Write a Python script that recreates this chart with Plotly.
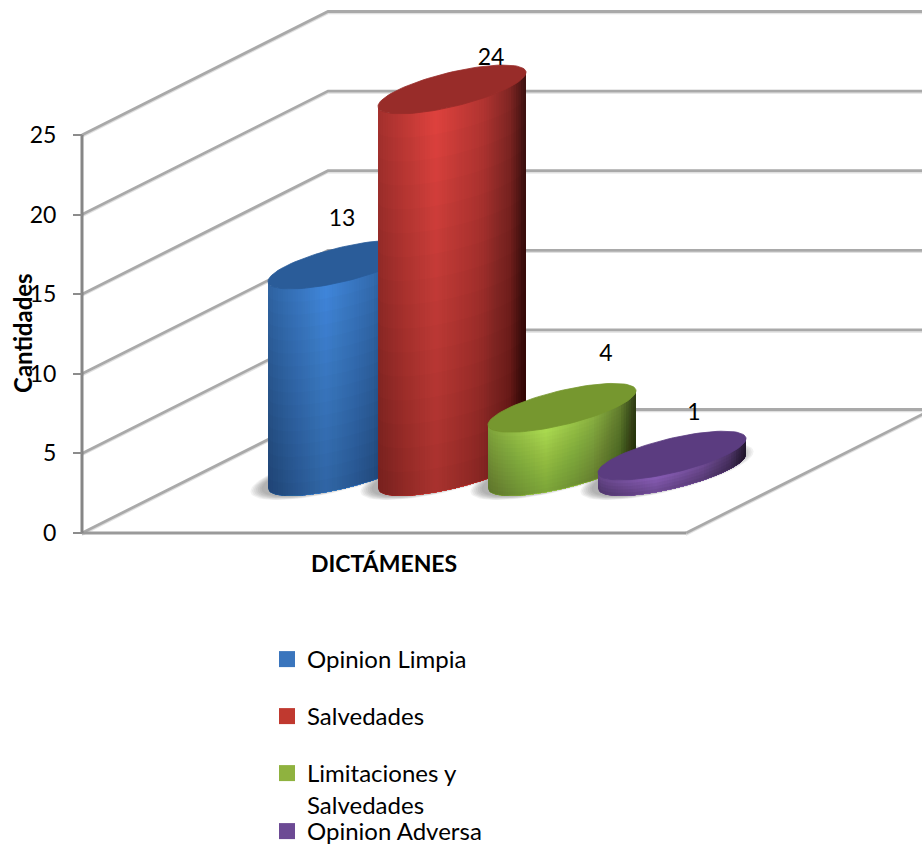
import numpy as np
import plotly.graph_objects as go

# ---------- data ----------
CATEGORIES = ["Opinion Limpia", "Salvedades", "Limitaciones y<br>Salvedades", "Opinion Adversa"]
VALUES = [13, 24, 4, 1]
Y_TICKS = [0, 5, 10, 15, 20, 25]
X_TITLE = "DICTÁMENES"
Y_TITLE = "Cantidades"

# ---------- style ----------
W, H = 922, 844
FONT = "Lato"
LIGHT = [(64, 134, 218), (222, 66, 62), (170, 218, 80), (135, 92, 180)]
CAP = ["#2a5c99", "#982c29", "#76972f", "#5b3c80"]
SWATCH = ["#3a75bd", "#c0392f", "#8fb23f", "#6c4a94"]
LABEL_SHIFT = [(0, 44), (39, 30), (44, 53), (22, 41)]   # px from cap centre
LEGEND_Y = [660, 717, 774, 832]

# pixel <-> axis scaling
PX_PER_CAT = 110.0
PX_PER_UNIT = 15.92
X0_PX, Y0_PX = 342.0, 533.0
X_RANGE = [-X0_PX / PX_PER_CAT, (W - X0_PX) / PX_PER_CAT]
Y_RANGE = [(Y0_PX - H) / PX_PER_UNIT, Y0_PX / PX_PER_UNIT]


def cx(px):
    return (px - X0_PX) / PX_PER_CAT


def dv(px):
    return px / PX_PER_UNIT


BASE_V = dv(61.5)      # depth of the column bases on the floor
HALF_W = 74 / PX_PER_CAT
TILT = dv(17)
FLAT = dv(17.5)
AXIS_X = cx(82)
BACK_X = cx(328)
FRONT_R = cx(686)
BACK_V = dv(123.5)
SLOPE_DX = BACK_X - AXIS_X

fig = go.Figure()


def poly(xs, ys, color, line=None, lw=0.8):
    fig.add_trace(go.Scatter(x=xs, y=ys, mode="lines", fill="toself", fillcolor=color,
                             line=dict(color=line or color, width=lw),
                             hoverinfo="skip", showlegend=False))


def ell(center_x, center_v, scale=1.0, n=90):
    t = np.linspace(0, 2 * np.pi, n)
    return (center_x + scale * HALF_W * np.cos(t),
            center_v + scale * (TILT * np.cos(t) - FLAT * np.sin(t)))


def wall(xs, ys, color="#a9a9a9", width=2.8, shadow=True):
    if shadow:
        fig.add_trace(go.Scatter(x=xs, y=np.array(ys) - dv(2), mode="lines",
                                 line=dict(color="#e0e0e0", width=1.5),
                                 hoverinfo="skip", showlegend=False))
    fig.add_trace(go.Scatter(x=xs, y=ys, mode="lines", line=dict(color=color, width=width),
                             hoverinfo="skip", showlegend=False))


# walls and floor
for v in Y_TICKS:
    wall([AXIS_X, BACK_X, X_RANGE[1]], [v, v + BACK_V, v + BACK_V])
wall([FRONT_R, FRONT_R + SLOPE_DX], [0, BACK_V])
wall([AXIS_X, FRONT_R], [0, 0], color="#9a9a9a", width=3, shadow=False)
wall([AXIS_X, AXIS_X], [Y_TICKS[0], Y_TICKS[-1]], color="#868686", width=3, shadow=False)

# soft shadows under the columns
for i in range(len(VALUES)):
    for s in np.linspace(1.17, 1.02, 7):
        xs, ys = ell(i - 5 / PX_PER_CAT, BASE_V, s)
        poly(xs, ys, "rgba(70,70,70,0.07)", line="rgba(0,0,0,0)", lw=0)

# columns: painter's-order shading polygons, then cumulative translucent overlays for the fade
PROFILE_U = [0.0, 0.12, 0.38, 0.7, 0.88, 1.0]
PROFILE_F = [0.74, 0.82, 1.0, 0.8, 0.58, 0.25]
N_STRIPS = 56
N_FADE = 16
for i, val in enumerate(VALUES):
    c = np.linspace(-1, 1, 121)
    s = np.sqrt(np.clip(1 - c ** 2, 0, 1))
    xe = i + HALF_W * c
    ye = BASE_V + TILT * c - FLAT * s
    for k in range(0, len(c) - 1, 2):
        u = 0.5 * (c[k] + 1)
        f = np.interp(u, PROFILE_U, PROFILE_F)
        col = "rgb(%d,%d,%d)" % tuple(int(min(255, ch * f)) for ch in LIGHT[i])
        # each polygon spans from this slice to the far edge; the next one paints over it
        poly(np.r_[xe[k:], xe[k:][::-1]], np.r_[ye[k:] + val, ye[k:][::-1]], col,
             line="rgba(0,0,0,0)", lw=0)
    fades = N_FADE if val >= 4 else 5
    for h in np.linspace(val, 0, fades + 1)[1:-1]:
        poly(np.r_[xe, xe[::-1]], np.r_[ye + h, ye[::-1]],
             "rgba(0,0,0,%.4f)" % (0.22 / fades), line="rgba(0,0,0,0)", lw=0)
    xs, ys = ell(i, BASE_V + val)
    poly(xs, ys, CAP[i])

# data labels
fig.add_trace(go.Scatter(
    x=[i + LABEL_SHIFT[i][0] / PX_PER_CAT for i in range(len(VALUES))],
    y=[BASE_V + v + dv(LABEL_SHIFT[i][1]) for i, v in enumerate(VALUES)],
    text=[str(v) for v in VALUES], mode="text", textposition="middle center",
    textfont=dict(family=FONT, size=23, color="#000000"),
    hoverinfo="skip", showlegend=False))

# legend: one legend box per entry so each row keeps its place
legends = {}
for i, name in enumerate(CATEGORIES):
    key = "legend" if i == 0 else f"legend{i + 1}"
    fig.add_trace(go.Scatter(x=[None], y=[None], mode="markers", name=name, legend=key,
                             marker=dict(symbol="square", size=16, color=SWATCH[i]),
                             showlegend=True))
    legends[key] = dict(x=267 / W, y=1 - (LEGEND_Y[i] - 23) / H, xanchor="left", yanchor="top",
                        bgcolor="rgba(0,0,0,0)", borderwidth=0, itemsizing="trace", valign="top",
                        font=dict(family=FONT, size=24, color="#000000"))

fig.update_layout(
    width=W, height=H, margin=dict(l=0, r=0, t=0, b=0, autoexpand=False), autosize=False,
    paper_bgcolor="white", plot_bgcolor="white",
    xaxis=dict(range=X_RANGE, visible=False, fixedrange=True, domain=[0, 1]),
    yaxis=dict(range=Y_RANGE, domain=[0, 1], anchor="free", position=82 / W, side="left",
               tickmode="array", tickvals=Y_TICKS, ticktext=[str(v) for v in Y_TICKS],
               showgrid=False, zeroline=False, showline=False,
               ticks="outside", ticklen=9, tickwidth=2, tickcolor="#8c8c8c", ticklabelstandoff=12,
               tickfont=dict(family=FONT, size=23, color="#000000"), fixedrange=True),
    annotations=[
        dict(text=f"<b>{X_TITLE}</b>", xref="paper", yref="paper", x=384 / W, y=1 - 563 / H,
             xanchor="center", yanchor="middle", showarrow=False,
             font=dict(family=FONT, size=23, color="#000000")),
        dict(text=f"<b>{Y_TITLE}</b>", xref="paper", yref="paper", x=22 / W, y=1 - 333 / H,
             xanchor="center", yanchor="middle", textangle=-90, showarrow=False,
             font=dict(family=FONT, size=24, color="#000000")),
    ],
    **legends,
)

fig.write_html("out.html", config={"displayModeBar": False},
               post_script="document.body.style.margin='0';")
